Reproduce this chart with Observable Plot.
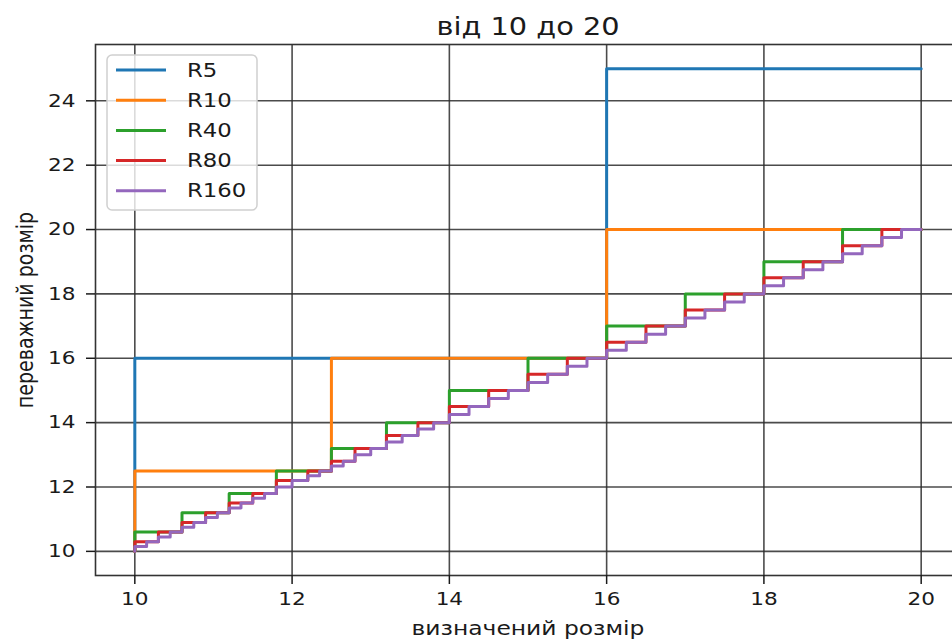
<!DOCTYPE html>
<html><head><meta charset="utf-8">
<script src="https://cdn.jsdelivr.net/npm/d3@7"></script>
<script src="https://cdn.jsdelivr.net/npm/@observablehq/plot@0.6"></script>
<style>
html,body{margin:0;padding:0;background:#fff;}
#chart{width:952px;height:640px;overflow:hidden;}
</style></head><body><div id="chart"></div>
<script>
// ---- data ----
const seriesNames = ["R5", "R10", "R40", "R80", "R160"];
const seriesColors = ["#1f77b4", "#ff7f0e", "#2ca02c", "#d62728", "#9467bd"];
const R5 = [10, 16, 25];
const R10 = [10, 12.5, 16, 20];
const R40 = [10, 10.6, 11.2, 11.8, 12.5, 13.2, 14, 15, 16, 17, 18, 19, 20];
const R80 = [10, 10.3, 10.6, 10.9, 11.2, 11.5, 11.8, 12.2, 12.5, 12.8, 13.2, 13.6, 14,
             14.5, 15, 15.5, 16, 16.5, 17, 17.5, 18, 18.5, 19, 19.5, 20];
const R160 = [10, 10.15, 10.3, 10.45, 10.6, 10.75, 10.9, 11.05, 11.2, 11.35, 11.5, 11.65, 11.8,
              12.0, 12.2, 12.35, 12.5, 12.65, 12.8, 13.0, 13.2, 13.4, 13.6, 13.8, 14,
              14.25, 14.5, 14.75, 15, 15.25, 15.5, 15.75, 16, 16.25, 16.5, 16.75, 17,
              17.25, 17.5, 17.75, 18, 18.25, 18.5, 18.75, 19, 19.25, 19.5, 19.75, 20];
const seriesValues = [R5, R10, R40, R80, R160];
const xTicks = [10, 12, 14, 16, 18, 20];
const yTicks = [10, 12, 14, 16, 18, 20, 22, 24];
const xLimit = 20;
const titleText = "від 10 до 20";
const xLabel = "визначений розмір";
const yLabel = "переважний розмір";

// ---- table ----
const rows = [];
seriesNames.forEach((name, i) => {
  seriesValues[i].forEach(v => rows.push({series: name, x: Math.min(v, xLimit), y: v}));
});

const W = 952, H = 640;
const M = {left: 95, right: -8, top: 44, bottom: 65};
const font = "DejaVu Sans, sans-serif";
const ink = "#1a1a1a";
const gridStyle = {stroke: "#2b2b2b", strokeOpacity: 0.85, strokeWidth: 1.6};

const plot = Plot.plot({
  width: W, height: H,
  marginLeft: M.left, marginRight: M.right, marginTop: M.top, marginBottom: M.bottom,
  style: {fontFamily: font, fontSize: "18px", background: "white", color: ink, overflow: "hidden"},
  x: {domain: [9.5, 20.5]},
  y: {domain: [9.25, 25.75]},
  color: {domain: seriesNames, range: seriesColors},
  marks: [
    Plot.gridX(xTicks, gridStyle),
    Plot.gridY(yTicks, gridStyle),
    Plot.line(rows, {x: "x", y: "y", z: "series", stroke: "series", curve: "step-before", strokeWidth: 3}),
    Plot.frame({stroke: "#333", strokeWidth: 1.6}),
    Plot.axisX(xTicks, {tickSize: 9, tickPadding: 8, tickFormat: d => String(d), label: null, strokeWidth: 1.5, fontSize: 18}),
    Plot.axisY(yTicks, {tickSize: 9, tickPadding: 11, tickFormat: d => String(d), label: null, strokeWidth: 1.5, fontSize: 18}),
    Plot.text([titleText], {frameAnchor: "top", dy: -27, text: d => d, fontSize: 24, fill: ink}),
    Plot.text([xLabel], {frameAnchor: "bottom", lineAnchor: "bottom", textAnchor: "middle", dy: 59, text: d => d, fontSize: 19.5, fill: ink}),
    Plot.text([yLabel], {frameAnchor: "left", lineAnchor: "bottom", textAnchor: "middle", dx: -63, rotate: -90, text: d => d, fontSize: 19, fill: ink})
  ]
});
document.getElementById("chart").appendChild(plot);

// ---- legend (drawn into the same SVG) ----
const svg = d3.select(plot.tagName.toLowerCase() === "svg" ? plot : plot.querySelector("svg"));
const lg = svg.append("g").attr("transform", `translate(${M.left + 12},${M.top + 11})`);
const rowH = 30.2;
lg.append("rect").attr("x", 0).attr("y", 0).attr("width", 150).attr("height", 155)
  .attr("rx", 5).attr("fill", "white").attr("fill-opacity", 0.8)
  .attr("stroke", "#d0d0d0").attr("stroke-width", 1.5);
seriesNames.forEach((name, i) => {
  const cy = 15 + i * rowH;
  lg.append("line").attr("x1", 9).attr("x2", 59).attr("y1", cy).attr("y2", cy)
    .attr("stroke", seriesColors[i]).attr("stroke-width", 3);
  lg.append("text").attr("x", 80).attr("y", cy).attr("dy", "0.35em")
    .attr("text-anchor", "start")
    .attr("font-family", font).attr("font-size", 19).attr("fill", ink).text(name);
});

// ---- the reference picture is stretched horizontally: widen glyphs the same way ----
const SX = 1.2;
svg.selectAll("text").each(function () {
  const t = d3.select(this);
  const tr = t.attr("transform") || "";
  const rot = /rotate\(/.test(tr);
  const x = +t.attr("x") || 0, y = +t.attr("y") || 0;
  const s = rot ? `scale(1,${SX})` : `scale(${SX},1)`;
  t.attr("transform", `${tr} translate(${x},${y}) ${s} translate(${-x},${-y})`);
});
</script></body></html>
